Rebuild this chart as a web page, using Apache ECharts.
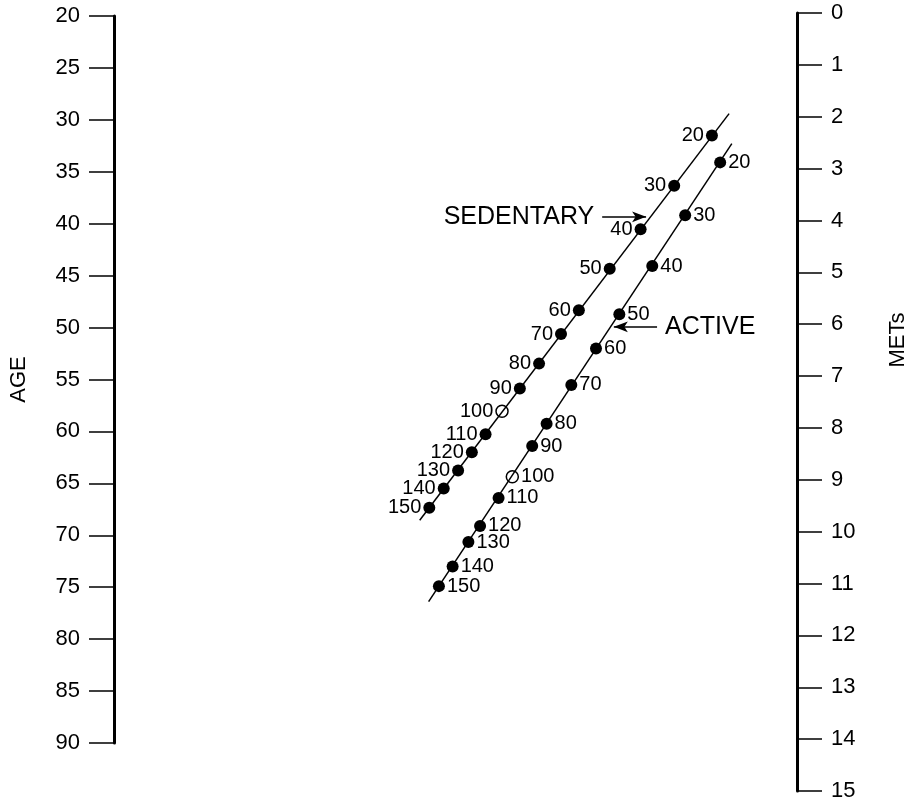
<!DOCTYPE html>
<html>
<head>
<meta charset="utf-8">
<script src="https://cdn.jsdelivr.net/npm/echarts@6/dist/echarts.min.js"></script>
<style>
  html, body { margin: 0; padding: 0; background: #fff; }
  #chart { width: 913px; height: 802px; }
</style>
</head>
<body>
<div id="chart"></div>
<script>
// x: 0 = AGE axis, 100 = METs axis; y: METs scale (0 top, 15 bottom)
var rates = ['20','30','40','50','60','70','80','90','100','110','120','130','140','150'];
var sedentaryX = [87.6, 82.1, 77.2, 72.7, 68.2, 65.6, 62.4, 59.6, 57.0, 54.6, 52.6, 50.6, 48.5, 46.4];
var sedentaryY = [2.36, 3.33, 4.17, 4.93, 5.73, 6.19, 6.76, 7.24, 7.68, 8.12, 8.47, 8.82, 9.17, 9.54];
var activeX = [88.8, 83.7, 78.9, 74.1, 70.7, 67.1, 63.5, 61.4, 58.5, 56.5, 53.8, 52.1, 49.8, 47.8];
var activeY = [2.88, 3.90, 4.88, 5.81, 6.47, 7.17, 7.92, 8.35, 8.94, 9.35, 9.89, 10.20, 10.67, 11.05];
// ends of the two scale lines
var sedentaryEnds = [[90.1, 1.94], [45.0, 9.78]];
var activeEnds = [[90.5, 2.52], [46.3, 11.35]];
// pointer arrows
var sedentaryArrow = [[71.6, 3.93], [78.0, 3.93]];
var activeArrow = [[79.6, 6.05], [73.3, 6.05]];

var ageTicks = [20, 90, 5];
var metTicks = [0, 15, 1];

var font = 'Liberation Sans, Arial, Helvetica, sans-serif';

function dots(xs, ys) {
  var out = [];
  for (var i = 0; i < rates.length; i++) {
    var item = { name: rates[i], value: [xs[i], ys[i]] };
    if (rates[i] == '100') {
      item.itemStyle = { color: '#fff', borderColor: '#000', borderWidth: 1.5 };
    }
    out.push(item);
  }
  return out;
}

var myChart = echarts.init(document.getElementById('chart'));
var option = {
  animation: false,
  backgroundColor: '#fff',
  textStyle: { fontFamily: font, color: '#000' },
  grid: [
    { left: 111, right: 116, top: 13, bottom: 9 },
    { left: 111, right: 116, top: 16, bottom: 59 }
  ],
  xAxis: [
    { gridIndex: 0, type: 'value', min: 0, max: 100, show: false },
    { gridIndex: 1, type: 'value', min: 0, max: 100, show: false }
  ],
  yAxis: [
    {
      gridIndex: 0, type: 'value', position: 'right', inverse: true,
      min: metTicks[0], max: metTicks[1], interval: metTicks[2],
      splitLine: { show: false },
      axisLine: { show: true, onZero: false, lineStyle: { color: '#000', width: 3 } },
      axisTick: { show: true, length: 25, lineStyle: { color: '#000', width: 1.5 } },
      axisLabel: { margin: 34, fontSize: 22, color: '#000', fontFamily: font }
    },
    {
      gridIndex: 1, type: 'value', position: 'left', inverse: true,
      min: ageTicks[0], max: ageTicks[1], interval: ageTicks[2],
      name: 'AGE', nameLocation: 'middle', nameRotate: 90, nameGap: 84,
      nameTextStyle: { fontSize: 22, color: '#000', fontFamily: font },
      splitLine: { show: false },
      axisLine: { show: true, onZero: false, lineStyle: { color: '#000', width: 3 } },
      axisTick: { show: true, length: 25, lineStyle: { color: '#000', width: 1.5 } },
      axisLabel: { margin: 34, fontSize: 22, color: '#000', fontFamily: font }
    }
  ],
  graphic: [
    {
      type: 'text', x: 898, y: 340, rotation: Math.PI / 2,
      style: { text: 'METs', fontSize: 22, fontFamily: font, fill: '#000', align: 'center', verticalAlign: 'middle' }
    }
  ],
  series: [
    {
      name: 'sedentaryLine', type: 'line', xAxisIndex: 0, yAxisIndex: 0,
      data: sedentaryEnds, showSymbol: false, silent: true,
      lineStyle: { color: '#000', width: 1.5 },
      markLine: {
        silent: true, symbol: ['none', 'arrow'], symbolSize: [8, 14],
        lineStyle: { color: '#000', width: 1.5, type: 'solid' },
        label: { show: true, position: 'start', formatter: 'SEDENTARY', fontSize: 25, color: '#000', fontFamily: font, distance: 8 },
        data: [[{ coord: sedentaryArrow[0] }, { coord: sedentaryArrow[1] }]]
      }
    },
    {
      name: 'activeLine', type: 'line', xAxisIndex: 0, yAxisIndex: 0,
      data: activeEnds, showSymbol: false, silent: true,
      lineStyle: { color: '#000', width: 1.5 },
      markLine: {
        silent: true, symbol: ['none', 'arrow'], symbolSize: [8, 14],
        lineStyle: { color: '#000', width: 1.5, type: 'solid' },
        label: { show: true, position: 'start', formatter: 'ACTIVE', fontSize: 25, color: '#000', fontFamily: font, distance: 8 },
        data: [[{ coord: activeArrow[0] }, { coord: activeArrow[1] }]]
      }
    },
    {
      name: 'sedentary', type: 'scatter', xAxisIndex: 0, yAxisIndex: 0,
      data: dots(sedentaryX, sedentaryY), symbolSize: 12, silent: true,
      itemStyle: { color: '#000', opacity: 1 },
      label: { show: true, position: 'left', distance: 2, formatter: '{b}', fontSize: 20, color: '#000', fontFamily: font }
    },
    {
      name: 'active', type: 'scatter', xAxisIndex: 0, yAxisIndex: 0,
      data: dots(activeX, activeY), symbolSize: 12, silent: true,
      itemStyle: { color: '#000', opacity: 1 },
      label: { show: true, position: 'right', distance: 2, formatter: '{b}', fontSize: 20, color: '#000', fontFamily: font }
    }
  ]
};
myChart.setOption(option);
</script>
</body>
</html>
